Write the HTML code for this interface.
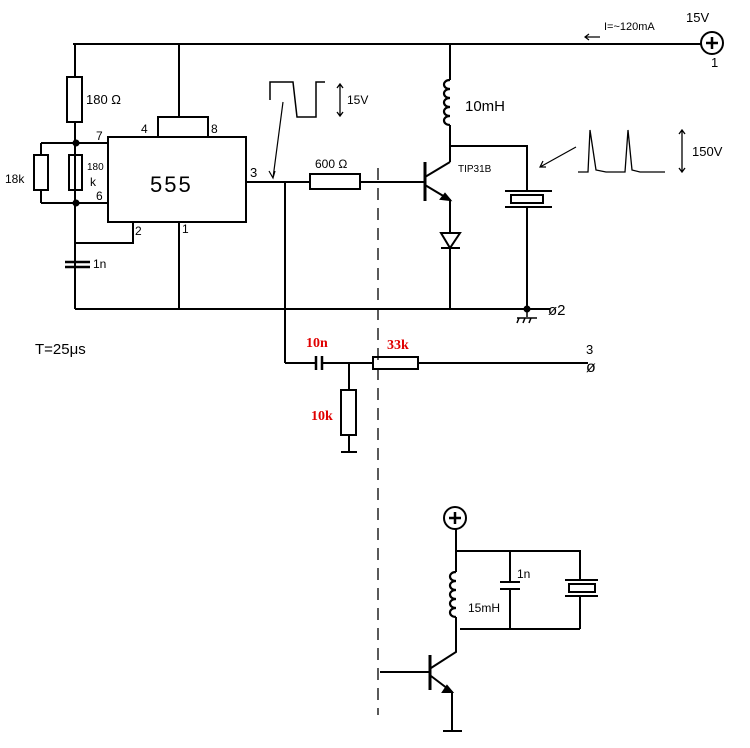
<!DOCTYPE html>
<html><head><meta charset="utf-8"><style>
html,body{margin:0;padding:0;background:#fff;}
svg{display:block}
text{font-family:"Liberation Sans",sans-serif;fill:#000}
.r{font-family:"Liberation Serif",serif;font-weight:bold;fill:#e00000;font-size:14px}
</style></head><body>
<svg width="750" height="748" viewBox="0 0 750 748" xmlns="http://www.w3.org/2000/svg" fill="none" stroke="#000" stroke-width="2">
<!-- top rail -->
<path d="M73 44H701"/>
<circle cx="712" cy="43" r="11"/>
<path d="M706 43h12M712 37v12" stroke-width="2.5"/>
<text x="686" y="22" font-size="13" stroke="none">15V</text>
<text x="711" y="67" font-size="13" stroke="none">1</text>
<text x="604" y="30" font-size="11" stroke="none">I=~120mA</text>
<path d="M600 37h-15m4-3l-4 3 4 3" stroke-width="1.2"/>
<!-- left network -->
<path d="M75 44V77M75 122V309"/>
<rect x="67" y="77" width="15" height="45"/>
<text x="86" y="104" font-size="13" stroke="none">180 Ω</text>
<path d="M41 143H108M41 143V155M41 190V203M41 203H108"/>
<rect x="34" y="155" width="14" height="35"/>
<rect x="69" y="155" width="13" height="35"/>
<circle cx="76" cy="143" r="2.5" fill="#000"/><circle cx="76" cy="203" r="2.5" fill="#000"/>
<text x="5" y="183" font-size="12" stroke="none">18k</text>
<text x="87" y="170" font-size="10" stroke="none">180</text>
<text x="90" y="186" font-size="12" stroke="none">k</text>
<text x="96" y="140" font-size="12" stroke="none">7</text>
<text x="96" y="200" font-size="12" stroke="none">6</text>
<!-- 555 -->
<rect x="108" y="137" width="138" height="85"/>
<text x="150" y="192" font-size="22" stroke="none" letter-spacing="2">555</text>
<path d="M179 44V117M158 137V117H208V137"/>
<text x="141" y="133" font-size="12" stroke="none">4</text>
<text x="211" y="133" font-size="12" stroke="none">8</text>
<text x="250" y="177" font-size="13" stroke="none">3</text>
<path d="M133 222V243H76"/>
<text x="135" y="235" font-size="12" stroke="none">2</text>
<path d="M179 222V309"/>
<text x="182" y="233" font-size="12" stroke="none">1</text>
<path d="M65 262H90M65 267H90" stroke-width="2.5"/>
<text x="93" y="268" font-size="12" stroke="none">1n</text>
<path d="M75 309H527"/>
<text x="35" y="354" font-size="15" stroke="none">T=25μs</text>
<!-- output -->
<path d="M246 182H310M360 182H425M285 182V363"/>
<rect x="310" y="174" width="50" height="15"/>
<text x="315" y="168" font-size="12" stroke="none">600 Ω</text>
<!-- square wave -->
<path d="M270 100V82H293L297 117H316V82H325" stroke-width="1.5"/>
<path d="M340 84V116m-3-28l3-4 3 4m-6 24l3 4 3-4" stroke-width="1.3"/>
<text x="347" y="104" font-size="12" stroke="none">15V</text>
<path d="M283 102L273 178m-4-7l4 7 2-7" stroke-width="1.2"/>
<!-- dashed -->
<path d="M378 168V715" stroke-dasharray="12 8" stroke-width="1.3"/>
<!-- inductor 10mH -->
<path d="M450 44V80M450 125V162"/>
<path d="M450 80c-8 0-8 9 0 9c-8 0-8 9 0 9c-8 0-8 9 0 9c-8 0-8 9 0 9c-8 0-8 9 0 9" stroke-width="2.2"/>
<text x="465" y="111" font-size="15" stroke="none">10mH</text>
<path d="M450 146H527V191"/>
<!-- transistor -->
<path d="M425 162V201" stroke-width="3"/>
<path d="M425 177L450 162M425 185L450 200V232"/>
<path d="M450 200l-9-1 4-5z" fill="#000"/>
<text x="458" y="172" font-size="10" stroke="none">TIP31B</text>
<path d="M441 233H460L450 248ZM441 248H460" fill="#fff"/>
<path d="M450 248V309"/>
<!-- crystal -->
<path d="M505 191H552M505 207H552" stroke-width="2"/>
<rect x="511" y="195" width="32" height="8"/>
<path d="M527 207V309"/>
<circle cx="527" cy="309" r="2.5" fill="#000"/>
<path d="M527 309V317M517 318H537M519 318l-2 5M525 318l-2 5M531 318l-2 5" stroke-width="1.5"/>
<path d="M527 309H550"/>
<text x="548" y="315" font-size="15" stroke="none">ø2</text>
<path d="M576 147L540 167m3-6l-3 6 6 0" stroke-width="1.2"/>
<path d="M578 172H588L590 130L596 170L606 172H625L628 130L632 170L640 172H665" stroke-width="1.3"/>
<path d="M682 130V172m-3-38l3-4 3 4m-6 34l3 4 3-4" stroke-width="1.3"/>
<text x="692" y="156" font-size="13" stroke="none">150V</text>
<!-- lower network -->
<path d="M285 363H316M322 363H373M418 363H588M349 363V390M349 435V452M341 452H357"/>
<path d="M316 356V370M322 356V370" stroke-width="2.5"/>
<rect x="373" y="357" width="45" height="12"/>
<rect x="341" y="390" width="15" height="45"/>
<text x="306" y="347" class="r" stroke="none">10n</text>
<text x="387" y="349" class="r" stroke="none">33k</text>
<text x="311" y="420" class="r" stroke="none">10k</text>
<text x="586" y="354" font-size="13" stroke="none">3</text>
<text x="586" y="372" font-size="16" stroke="none">ø</text>
<!-- bottom circuit -->
<circle cx="455" cy="518" r="11"/>
<path d="M449 518h12M455 512v12" stroke-width="2.5"/>
<path d="M456 529V572M456 551H580V580M456 617V652L431 668M510 551V582M510 590V629M460 629H580M580 596V629"/>
<path d="M456 572c-8 0-8 9 0 9c-8 0-8 9 0 9c-8 0-8 9 0 9c-8 0-8 9 0 9c-8 0-8 9 0 9" stroke-width="2.2"/>
<text x="468" y="612" font-size="12" stroke="none">15mH</text>
<path d="M500 582H520M500 589H520" stroke-width="2"/>
<text x="517" y="578" font-size="12" stroke="none">1n</text>
<path d="M565 580H598M565 596H598"/>
<rect x="569" y="584" width="26" height="8"/>
<path d="M430 655V690" stroke-width="3"/>
<path d="M380 672H430M431 676L452 692V731M443 731H462"/>
<path d="M452 692l-9 0 4-6z" fill="#000"/>
</svg>
</body></html>
